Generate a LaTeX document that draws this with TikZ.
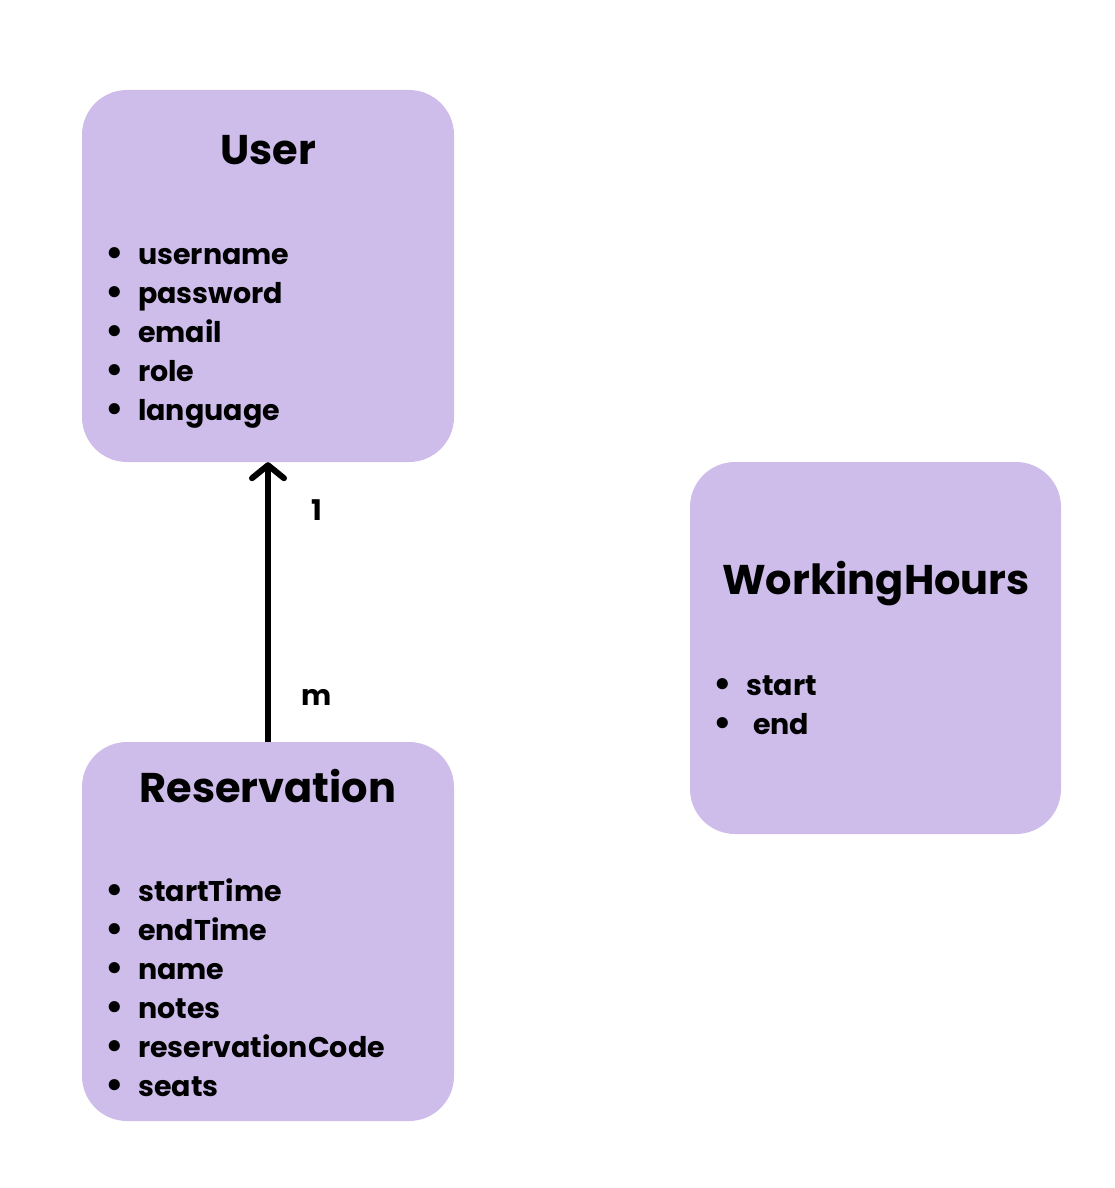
\documentclass[tikz,border=0pt]{standalone}
\usepackage{fontspec}
\setmainfont{Poppins}
\usetikzlibrary{arrows.meta}
\definecolor{boxcolour}{HTML}{CEBDEB}

\tikzset{
  entity/.style={fill=boxcolour, draw=none, rounded corners=45pt, inner sep=0pt},
  entitytitle/.style={font=\fontsize{41.5}{48}\selectfont\bfseries, inner sep=0pt},
  attrlist/.style={font=\fontsize{28.5}{39}\selectfont\bfseries, align=left, anchor=north west, inner sep=0pt},
  multiplicity/.style={font=\fontsize{28.5}{32}\selectfont\bfseries, inner sep=0pt}
}
\newcommand{\attr}[1]{\makebox[33pt][l]{\raisebox{-1pt}{\scalebox{1.3}{\textbullet}}}#1}

\begin{document}
\begin{tikzpicture}[x=1pt, y=-1pt]
\useasboundingbox (0,0) rectangle (1114,1188);

% User
\node[entity, minimum width=372pt, minimum height=372pt] (user) at (268,276) {};
\node[entitytitle] (usertitle) at (268,150) {User};
\node[attrlist] (userattrs) at (105,247) {\attr{username}\\\attr{password}\\\attr{email}\\\attr{role}\\\attr{language}};

% Reservation
\node[entity, minimum width=372pt, minimum height=379pt] (resv) at (268,931.5) {};
\node[entitytitle] (resvtitle) at (268,786) {Reservation};
\node[attrlist] (resvattrs) at (105,878) {\attr{startTime}\\\attr{endTime}\\\attr{name}\\\attr{notes}\\\attr{reservationCode}\\\attr{seats}};

% WorkingHours
\node[entity, minimum width=371pt, minimum height=372pt] (hours) at (875.5,648) {};
\node[entitytitle] (hourstitle) at (876,584) {WorkingHours};
\node[attrlist] (hoursattrs) at (713,676) {\attr{start}\\\attr{\hspace{7pt}end}};

% Reservation to User
\draw[line width=6pt, -{Straight Barb[round, length=13pt, width=32pt, line width=6pt]}] (resv.north) -- (user.south);
\node[multiplicity] (one) at (317,510) {1};
\node[multiplicity] (many) at (317,697) {m};

\end{tikzpicture}
\end{document}
